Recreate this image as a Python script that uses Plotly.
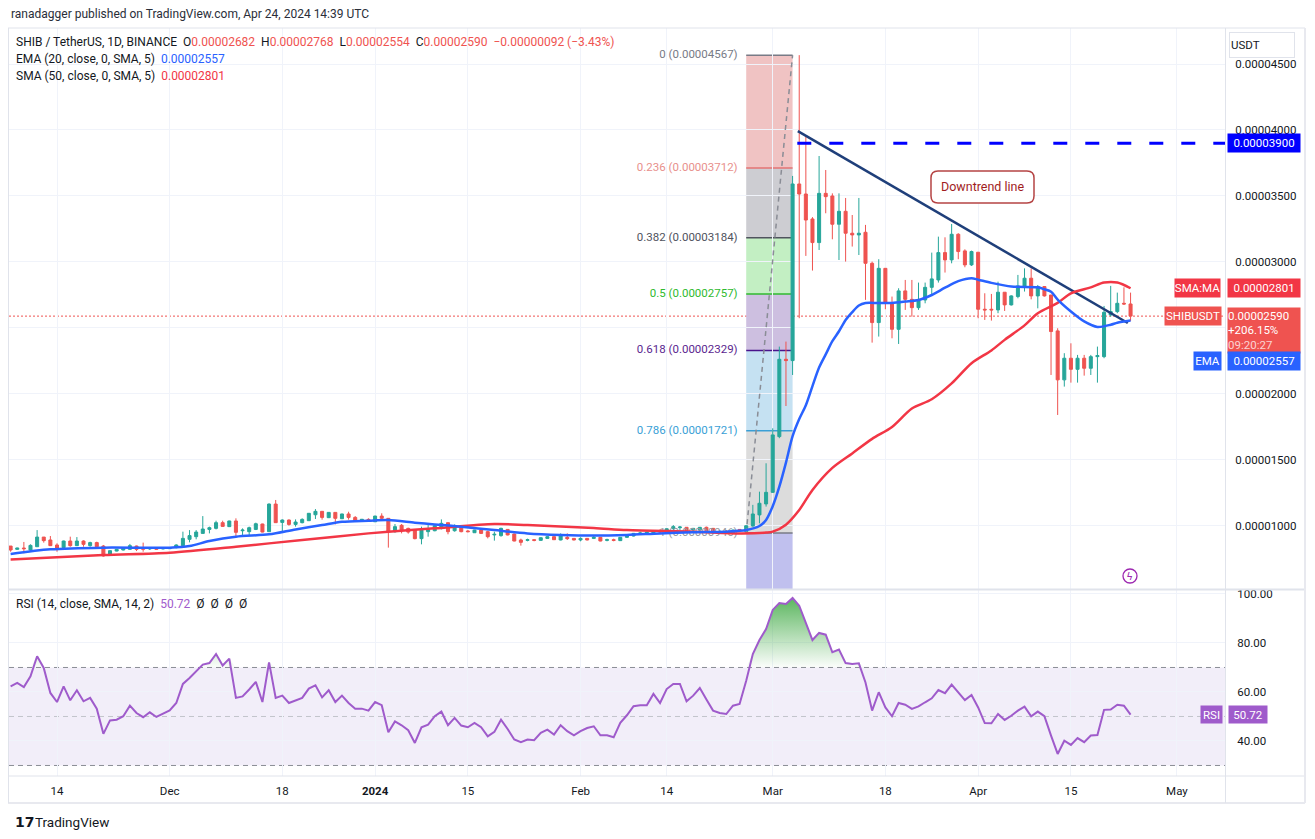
import pandas as pd
import plotly.graph_objects as go

# ---------------------------------------------------------------- data
# prices are given in units of 1e-8 USDT (0.00002590 -> 2590)
UNIT = 1e-8
START_DATE = "2023-11-07"          # first daily candle

OPEN = [848, 823, 833, 818, 843, 916, 894, 856, 836, 886,
        851, 886, 851, 874, 848, 778, 810, 818, 823, 848,
        836, 826, 836, 826, 828, 836, 851, 899, 919, 944,
        974, 982, 1025, 995, 1038, 964, 957, 974, 1015, 957,
        1166, 1027, 1045, 1012, 1025, 1040, 1085, 1111, 1063, 1103,
        1055, 1091, 1065, 1045, 1050, 1032, 1075, 1058, 957, 1005,
        982, 969, 904, 957, 964, 987, 1025, 964, 990, 962,
        949, 969, 957, 932, 927, 974, 939, 894, 891, 896,
        891, 906, 919, 894, 914, 906, 894, 906, 906, 914,
        891, 896, 889, 914, 924, 942, 947, 944, 964, 952,
        982, 987, 990, 969, 969, 990, 982, 954, 959, 949,
        974, 957, 1000, 1084, 1167, 1255, 1677, 2263, 2253, 3591,
        3515, 3326, 3147, 3520, 3500, 3286, 3384, 3218, 3205, 3225,
        2990, 2541, 2952, 2687, 2490, 2781, 2717, 2654, 2712, 2808,
        2864, 3071, 3016, 3210, 3084, 2978, 3074, 2642, 2642, 2637,
        2771, 2675, 2738, 2808, 2877, 2743, 2814, 2750, 2478, 2107,
        2271, 2187, 2271, 2195, 2283, 2283, 2599, 2624, 2687, 2682]
HIGH = [848, 835, 879, 861, 969, 916, 924, 869, 889, 919,
        916, 891, 881, 881, 856, 815, 826, 833, 864, 851,
        874, 841, 838, 836, 838, 861, 957, 969, 969, 1075,
        995, 1040, 1040, 1040, 1058, 982, 995, 1025, 1017, 1171,
        1197, 1050, 1050, 1050, 1058, 1098, 1128, 1111, 1105, 1103,
        1093, 1108, 1075, 1053, 1058, 1078, 1096, 1058, 1015, 1015,
        987, 974, 995, 1007, 1005, 1050, 1025, 1012, 995, 969,
        971, 974, 964, 957, 987, 976, 942, 904, 904, 899,
        914, 921, 921, 944, 944, 909, 914, 909, 924, 916,
        904, 904, 916, 937, 947, 957, 957, 969, 974, 982,
        1007, 1000, 992, 985, 992, 995, 985, 969, 969, 972,
        977, 1005, 1160, 1260, 1475, 1740, 2359, 2397, 3652, 4567,
        3950, 3340, 3803, 3697, 3520, 3520, 3485, 3356, 3485, 3281,
        3003, 3021, 2952, 2738, 2801, 2864, 2864, 2844, 2844, 3071,
        3192, 3187, 3288, 3218, 3096, 3086, 3074, 2763, 2758, 2851,
        2771, 2748, 2902, 2952, 2952, 2826, 2816, 2750, 2498, 2309,
        2384, 2296, 2296, 2296, 2359, 2667, 2819, 2768, 2808, 2768]
LOW = [805, 820, 793, 808, 843, 874, 848, 805, 833, 843,
       848, 843, 843, 841, 768, 775, 808, 815, 818, 810,
       805, 818, 820, 823, 826, 831, 851, 876, 899, 944,
       944, 974, 995, 992, 919, 932, 924, 969, 952, 957,
       1025, 957, 1002, 995, 1020, 1038, 1053, 1048, 1060, 1012,
       1053, 1048, 1035, 1043, 1035, 1030, 1050, 836, 949, 944,
       942, 899, 861, 919, 960, 974, 937, 957, 952, 952,
       947, 939, 906, 889, 919, 929, 884, 851, 884, 884,
       889, 904, 894, 891, 894, 891, 884, 891, 901, 884,
       884, 884, 886, 911, 921, 934, 939, 939, 944, 949,
       969, 969, 957, 962, 966, 957, 947, 944, 944, 947,
       954, 946, 995, 1020, 1147, 1250, 1665, 1909, 2144, 2574,
       3046, 2935, 3091, 3369, 3172, 3015, 3003, 3117, 3053, 2713,
       2389, 2435, 2642, 2422, 2379, 2637, 2586, 2637, 2687, 2750,
       2844, 2920, 2990, 3021, 2960, 2970, 2574, 2561, 2556, 2612,
       2629, 2670, 2725, 2776, 2717, 2649, 2738, 2144, 1841, 2056,
       2086, 2086, 2139, 2144, 2086, 2271, 2586, 2612, 2675, 2554]
CLOSE = [818, 833, 828, 853, 916, 889, 851, 833, 886, 851,
         886, 861, 874, 843, 773, 813, 823, 831, 851, 823,
         823, 836, 823, 833, 836, 856, 906, 927, 954, 977,
         987, 1025, 997, 1038, 952, 969, 987, 1017, 954, 1166,
         1025, 1045, 1012, 1030, 1050, 1096, 1111, 1065, 1103, 1058,
         1091, 1065, 1040, 1050, 1040, 1075, 1058, 957, 995, 969,
         954, 904, 969, 974, 1002, 1020, 957, 995, 957, 957,
         969, 944, 919, 937, 982, 932, 886, 876, 896, 891,
         911, 919, 896, 932, 904, 894, 906, 894, 914, 886,
         896, 891, 914, 934, 944, 947, 952, 964, 954, 979,
         995, 992, 964, 982, 990, 964, 949, 959, 954, 969,
         964, 1002, 1091, 1172, 1255, 1690, 2263, 2253, 3591, 3515,
         3318, 3147, 3520, 3495, 3286, 3384, 3218, 3205, 3218, 2990,
         2541, 2952, 2687, 2490, 2781, 2717, 2654, 2712, 2808, 2872,
         3071, 3016, 3210, 3079, 2978, 3079, 2642, 2637, 2637, 2771,
         2675, 2743, 2819, 2877, 2743, 2814, 2743, 2473, 2107, 2271,
         2187, 2271, 2195, 2283, 2291, 2619, 2624, 2687, 2682, 2590]

# EMA(20) and SMA(50) (day index from START_DATE, value)
EMA_DAY = [0, 6, 14, 24, 27, 30, 34, 39, 43, 47, 50, 54, 57, 61, 64, 68, 73, 78, 83, 88,
           93, 98, 103, 108, 111, 113, 114, 115, 116, 117, 118, 119, 120, 121, 122, 123,
           124, 125, 126, 127, 128, 129, 131, 133, 135, 137, 139, 141, 143, 145, 146, 148,
           151, 155, 156, 157, 158, 160, 162, 164, 166, 167, 169]
EMA_VAL = [788, 823, 836, 836, 848, 886, 919, 937, 974, 1007, 1032, 1040, 1045, 1025, 1012,
           995, 969, 944, 932, 927, 932, 944, 952, 957, 969, 1000, 1046, 1150, 1298, 1480,
           1680, 1810, 1915, 2060, 2200, 2300, 2400, 2475, 2560, 2620, 2670, 2689, 2689,
           2690, 2700, 2712, 2750, 2805, 2855, 2877, 2866, 2842, 2814, 2808, 2793, 2775,
           2715, 2625, 2550, 2508, 2525, 2540, 2557]
SMA_DAY = [0, 14, 24, 34, 44, 54, 57, 64, 73, 78, 88, 93, 103, 110, 114, 115, 117, 119, 121,
           124, 127, 130, 133, 136, 139, 142, 145, 148, 150, 153, 155, 158, 160, 163, 165,
           167, 169]
SMA_VAL = [747, 780, 798, 843, 894, 944, 957, 982, 1015, 1007, 985, 969, 957, 944, 950, 957,
           1010, 1121, 1273, 1440, 1550, 1660, 1750, 1890, 1960, 2080, 2233, 2330, 2410,
           2520, 2612, 2690, 2763, 2808, 2844, 2844, 2801]

RSI = [62.3, 63.7, 62.0, 66.4, 74.6, 69.8, 59.6, 55.9, 62.3, 56.6,
       60.7, 56.2, 57.6, 53.2, 42.9, 48.4, 48.7, 50.1, 54.4, 51.4,
       49.7, 51.7, 49.8, 51.2, 52.5, 55.5, 63.3, 65.7, 68.4, 71.2,
       71.8, 75.5, 70.8, 73.6, 57.6, 58.2, 61.0, 64.1, 55.9, 72.1,
       57.6, 58.5, 55.5, 56.5, 57.6, 61.4, 62.7, 57.8, 60.7, 55.9,
       58.5, 55.5, 53.2, 53.2, 52.4, 55.9, 54.6, 43.6, 48.0, 46.4,
       44.4, 39.2, 45.6, 46.7, 50.1, 52.0, 46.4, 49.4, 46.3, 45.6,
       47.4, 45.6, 41.9, 43.7, 48.7, 44.9, 40.6, 39.5, 40.6, 40.3,
       43.3, 44.6, 42.6, 46.4, 44.0, 42.3, 44.0, 45.3, 46.0, 42.3,
       42.3, 41.5, 47.4, 50.5, 54.2, 54.6, 54.6,
       59.2, 55.5, 61.2, 63.3, 63.3, 56.2, 58.5, 61.6, 56.9, 52.4,
       51.4, 51.0, 54.4, 55.1, 64.6, 75.5, 81.2, 85.7, 93.5, 96.3,
       95.9, 98.4, 95.2, 88.4, 81.2, 84.1, 83.4, 76.2, 77.3, 71.8,
       71.4, 71.7, 63.9, 52.4, 59.9, 53.7, 50.1, 55.5, 54.8, 53.1,
       54.1, 55.8, 57.4, 60.8, 59.5, 63.0, 59.9, 56.7, 58.8, 53.7,
       47.3, 47.2, 51.0, 48.6, 50.3, 52.4, 54.0, 50.1, 52.0, 50.1,
       42.2, 34.7, 40.1, 38.4, 41.2, 39.5, 42.2, 42.4, 52.7, 52.8,
       54.8, 54.4, 50.72]
RSI_LEVELS = [70, 50, 30]

# drawings
FIB_START, FIB_END = "2024-02-26", "2024-03-04"
FIB_PRICES = [4567, 3712, 3184, 2757, 2329, 1721, 946]
FIB_LABELS = ["0 (0.00004567)", "0.236 (0.00003712)", "0.382 (0.00003184)",
              "0.5 (0.00002757)", "0.618 (0.00002329)", "0.786 (0.00001721)",
              "1 (0.00000946)"]
TREND_DATES = ["2024-03-04 19:00", "2024-04-23 14:00"]
TREND_PRICES = [3992, 2538]
RESISTANCE = 3900
RESISTANCE_START = "2024-03-04 17:00"
CHANGE_PCT_TEXT = "+206.15%"
COUNTDOWN_TEXT = "09:20:27"

X_RANGE = ["2023-11-06 18:10", "2024-05-08 06:00"]
X_TICK_DATES = ["2023-11-14", "2023-12-01", "2023-12-18", "2024-01-01", "2024-01-15",
                "2024-02-01", "2024-02-14", "2024-03-01", "2024-03-18", "2024-04-01",
                "2024-04-15", "2024-05-01"]
X_TICK_TEXT = ["14", "Dec", "18", "<b>2024</b>", "15", "Feb", "14", "Mar", "18", "Apr",
               "15", "May"]
PRICE_RANGE = [522.6, 4772.7]
PRICE_TICKS = [1000, 1500, 2000, 2500, 3000, 3500, 4000, 4500]
PRICE_TICK_TEXT = ["0.00001000", "0.00001500", "0.00002000", "", "0.00003000",
                   "0.00003500", "0.00004000", "0.00004500"]
RSI_RANGE = [25.7, 101.63]
RSI_TICKS = [40, 60, 80, 100]
RSI_TICK_TEXT = ["40.00", "60.00", "80.00", "100.00"]

# ---------------------------------------------------------------- styles
FONT = "Roboto, Liberation Sans, sans-serif"
TXT = "#131722"
GRID = "#f0f3fa"
BORDER = "#e0e3eb"
UP, DOWN = "#26a69a", "#ef5350"
EMA_COLOR, SMA_COLOR = "#2962ff", "#f23645"
RSI_COLOR = "#9f5bcb"
FIB_LINE_COLORS = ["#787b86", "#e57373", "#50535e", "#2fba2f", "#4a148c", "#3a9fd6", "#787b86"]
FIB_TEXT_COLORS = ["#787b86", "#e8908c", "#50535e", "#2fba2f", "#5b1f8f", "#3a9fd6", "#9598a1"]
FIB_ZONE_COLORS = ["#f0c3c3", "#cdcdd2", "#c3efc3", "#cdbfe0", "#c5e1f2", "#dcdcdc", "#c0c0ee"]

PAGE_W, PAGE_H = 1315, 839
BODY_MARGIN = 8                          # default page margin around the figure div
W, H = PAGE_W - BODY_MARGIN, PAGE_H - BODY_MARGIN
PL, PR, PT, PB = 9, 1225, 28, 776        # plot area in page pixels
MAIN_BOTTOM, RSI_TOP = 589, 590


def px(x):
    return (x - PL) / (PR - PL)


def py(y):
    return (PB - y) / (PB - PT)


def pr(v):
    return v * UNIT


def fmt(v):
    return f"{v * UNIT:.8f}"


dates = pd.date_range(START_DATE, periods=len(CLOSE), freq="D")
t0 = pd.Timestamp(START_DATE)
ema_x = [t0 + pd.Timedelta(days=d) for d in EMA_DAY]
sma_x = [t0 + pd.Timedelta(days=d) for d in SMA_DAY]

fig = go.Figure()

# fib labels (beneath the candles)
fig.add_trace(go.Scatter(
    x=[FIB_START] * len(FIB_PRICES), y=[pr(v) for v in FIB_PRICES],
    mode="text", text=[t + "&nbsp;&nbsp;&nbsp;" for t in FIB_LABELS],
    textposition="middle left",
    textfont=dict(family=FONT, size=11.5, color=FIB_TEXT_COLORS),
    hoverinfo="skip", xaxis="x", yaxis="y"))
# fib trend (dashed diagonal)
fig.add_trace(go.Scatter(
    x=[FIB_START, FIB_END], y=[pr(FIB_PRICES[-1]), pr(FIB_PRICES[0])], mode="lines",
    line=dict(color="#8a8d96", width=1.5, dash="5px,4px"), hoverinfo="skip",
    xaxis="x", yaxis="y"))

# candles
fig.add_trace(go.Candlestick(
    x=dates, open=[pr(v) for v in OPEN], high=[pr(v) for v in HIGH],
    low=[pr(v) for v in LOW], close=[pr(v) for v in CLOSE],
    increasing=dict(line=dict(color=UP, width=1), fillcolor=UP),
    decreasing=dict(line=dict(color=DOWN, width=1), fillcolor=DOWN),
    whiskerwidth=0, hoverinfo="skip", xaxis="x", yaxis="y"))

# downtrend line and resistance
fig.add_trace(go.Scatter(
    x=TREND_DATES, y=[pr(v) for v in TREND_PRICES], mode="lines",
    line=dict(color="#1f3f7a", width=2.5), hoverinfo="skip", xaxis="x", yaxis="y"))
fig.add_trace(go.Scatter(
    x=[RESISTANCE_START, X_RANGE[1]], y=[pr(RESISTANCE)] * 2, mode="lines",
    line=dict(color="#0000ff", width=3, dash="14px,18px"), hoverinfo="skip",
    xaxis="x", yaxis="y"))

# moving averages
fig.add_trace(go.Scatter(
    x=sma_x, y=[pr(v) for v in SMA_VAL], mode="lines",
    line=dict(color=SMA_COLOR, width=2.5, shape="spline", smoothing=0.8),
    hoverinfo="skip", xaxis="x", yaxis="y"))
fig.add_trace(go.Scatter(
    x=ema_x, y=[pr(v) for v in EMA_VAL], mode="lines",
    line=dict(color=EMA_COLOR, width=2.5, shape="spline", smoothing=0.8),
    hoverinfo="skip", xaxis="x", yaxis="y"))

# RSI pane: overbought gradient fill, then the RSI line
fig.add_trace(go.Scatter(
    x=dates, y=[RSI_LEVELS[0]] * len(RSI), mode="lines", line=dict(width=0),
    hoverinfo="skip", xaxis="x2", yaxis="y2"))
fig.add_trace(go.Scatter(
    x=dates, y=[max(v, RSI_LEVELS[0]) for v in RSI], mode="lines", line=dict(width=0),
    fill="tonexty",
    fillgradient=dict(type="vertical",
                      colorscale=[[0, "rgba(76,175,80,0.02)"], [1, "rgba(76,175,80,0.9)"]],
                      start=RSI_LEVELS[0], stop=98),
    hoverinfo="skip", xaxis="x2", yaxis="y2"))
fig.add_trace(go.Scatter(
    x=dates, y=RSI, mode="lines", line=dict(color=RSI_COLOR, width=2),
    hoverinfo="skip", xaxis="x2", yaxis="y2"))

# ---------------------------------------------------------------- shapes
shapes = []
# fib zones and level lines
zone_bounds = FIB_PRICES + [0]
for i, col in enumerate(FIB_ZONE_COLORS):
    shapes.append(dict(type="rect", xref="x", yref="y", x0=FIB_START, x1=FIB_END,
                       y0=pr(zone_bounds[i]), y1=pr(zone_bounds[i + 1]),
                       fillcolor=col, line=dict(width=0), layer="below"))
for p, col in zip(FIB_PRICES, FIB_LINE_COLORS):
    shapes.append(dict(type="line", xref="x", yref="y", x0=FIB_START, x1=FIB_END,
                       y0=pr(p), y1=pr(p), line=dict(color=col, width=1.5), layer="below"))
# RSI band and levels
shapes.append(dict(type="rect", xref="paper", yref="y2", x0=0, x1=1, y0=RSI_LEVELS[2],
                   y1=RSI_LEVELS[0], fillcolor="rgba(126,87,194,0.1)",
                   line=dict(width=0), layer="below"))
for lv, col in zip(RSI_LEVELS, ["#8a8d96", "#c2c4cb", "#8a8d96"]):
    shapes.append(dict(type="line", xref="paper", yref="y2", x0=0, x1=1, y0=lv, y1=lv,
                       line=dict(color=col, width=1, dash="5px,4px"), layer="below"))
# last price dotted line
shapes.append(dict(type="line", xref="paper", yref="y", x0=0, x1=1,
                   y0=pr(CLOSE[-1]), y1=pr(CLOSE[-1]),
                   line=dict(color=DOWN, width=1, dash="2px,2px"), layer="below"))


def hline(y, x0, x1, col=BORDER, w=1):
    shapes.append(dict(type="line", xref="paper", yref="paper", x0=px(x0), x1=px(x1),
                       y0=py(y), y1=py(y), line=dict(color=col, width=w), layer="above"))


def vline(x, y0, y1, col=BORDER, w=1):
    shapes.append(dict(type="line", xref="paper", yref="paper", x0=px(x), x1=px(x),
                       y0=py(y0), y1=py(y1), line=dict(color=col, width=w), layer="above"))


hline(28, 8, 1305)
hline(MAIN_BOTTOM + 0.5, 8, 1305, w=2)
hline(776, 8, 1305)
hline(803, 8, 1305, col="#e8e9ef", w=2)
vline(8.5, 28, 803)
vline(1225.5, 28, 803)
vline(1305, 28, 803, col="#e8e9ef", w=2)

# rounded callout box for "Downtrend line"
bx0, by0, bx1, by1, r = 931, 171, 1034, 203, 7
pts = [("M", bx0 + r, by0), ("L", bx1 - r, by0), ("Q", bx1, by0, bx1, by0 + r),
       ("L", bx1, by1 - r), ("Q", bx1, by1, bx1 - r, by1), ("L", bx0 + r, by1),
       ("Q", bx0, by1, bx0, by1 - r), ("L", bx0, by0 + r), ("Q", bx0, by0, bx0 + r, by0)]
path = ""
for seg in pts:
    cmd, coords = seg[0], seg[1:]
    xy = []
    for k in range(0, len(coords), 2):
        xy.append(f"{px(coords[k]):.5f},{py(coords[k + 1]):.5f}")
    path += cmd + " " + " ".join(xy) + " "
path += "Z"
shapes.append(dict(type="path", xref="paper", yref="paper", path=path,
                   fillcolor="white", line=dict(color="#b54444", width=1.5), layer="above"))
# little alert icon
shapes.append(dict(type="circle", xref="paper", yref="paper", x0=px(1123), x1=px(1137),
                   y0=py(583), y1=py(569), line=dict(color="#9c27b0", width=1.3),
                   fillcolor="white", layer="above"))

# ---------------------------------------------------------------- annotations
ann = []


def text(t, x, y, size=12, color=TXT, xanchor="left", family=FONT):
    ann.append(dict(text=t, xref="paper", yref="paper", x=px(x), y=py(y), showarrow=False,
                    xanchor=xanchor, yanchor="middle",
                    font=dict(family=family, size=size, color=color)))


def tag(t, cx, cy, w, h, bg, align="center", yanchor="middle", yref="paper", ycoord=None,
        yshift=0):
    ann.append(dict(text=t, xref="paper", x=px(cx), xanchor="center",
                    yref=yref, y=py(cy) if ycoord is None else ycoord, yanchor=yanchor,
                    yshift=yshift, showarrow=False, bgcolor=bg, width=w, height=h,
                    borderpad=0, align=align,
                    font=dict(family=FONT, size=11.5, color="white")))


def red(s):
    return f"<span style='color:{DOWN}'>{s}</span>"


chg = CLOSE[-1] - CLOSE[-2]
chg_pct = chg / CLOSE[-2] * 100
sp = "&nbsp;&nbsp;"
text("ranadagger published on TradingView.com, Apr 24, 2024 14:39 UTC", 9, 14, size=12,
     color="#2a2e39")
text("SHIB / TetherUS, 1D, BINANCE" + sp + "O" + red(fmt(OPEN[-1])) + sp + "H"
     + red(fmt(HIGH[-1])) + sp + "L" + red(fmt(LOW[-1])) + sp + "C" + red(fmt(CLOSE[-1]))
     + sp + red(f"−{abs(chg) * UNIT:.8f} (−{abs(chg_pct):.2f}%)"), 14, 42)
text("EMA (20, close, 0, SMA, 5)" + sp
     + f"<span style='color:{EMA_COLOR}'>{fmt(EMA_VAL[-1])}</span>", 14, 59)
text("SMA (50, close, 0, SMA, 5)" + sp
     + f"<span style='color:{SMA_COLOR}'>{fmt(SMA_VAL[-1])}</span>", 14, 76)
text("RSI (14, close, SMA, 14, 2)" + sp
     + f"<span style='color:{RSI_COLOR}'>{RSI[-1]:.2f}</span>" + sp
     + "Ø&nbsp;&nbsp;Ø&nbsp;&nbsp;Ø&nbsp;&nbsp;Ø", 14, 604)

# callout text
text("Downtrend line", 982.5, 187, size=12.5, color="#a11d1d", xanchor="center")
text("ϟ", 1130, 576, size=10, color="#9c27b0", xanchor="center")

# USDT unit button
ann.append(dict(text="USDT", xref="paper", yref="paper", x=px(1229), y=py(45),
                xanchor="left", yanchor="middle", showarrow=False, width=62, height=22,
                align="left", bgcolor="white", bordercolor=BORDER, borderwidth=1,
                borderpad=1, font=dict(family=FONT, size=11.5, color=TXT)))

# price-scale labels
tag(fmt(RESISTANCE), 1264, 0, 72, 18, "#0000ff", yref="y", ycoord=pr(RESISTANCE))
tag("SMA:MA", 1197.5, 0, 45, 18, SMA_COLOR, yref="y", ycoord=pr(SMA_VAL[-1]))
tag(fmt(SMA_VAL[-1]), 1264, 0, 72, 18, SMA_COLOR, yref="y", ycoord=pr(SMA_VAL[-1]))
tag("SHIBUSDT", 1192.5, 0, 56, 18, DOWN, yref="y", ycoord=pr(CLOSE[-1]))
tag(fmt(CLOSE[-1]) + "<br>" + CHANGE_PCT_TEXT + "<br>"
    + f"<span style='color:rgba(255,255,255,0.75)'>{COUNTDOWN_TEXT}</span>",
    1264, 0, 72, 45, DOWN, align="left", yanchor="top", yref="y",
    ycoord=pr(CLOSE[-1]), yshift=9)
tag("EMA", 1207, 361, 27, 18, EMA_COLOR)
tag(fmt(EMA_VAL[-1]), 1264, 361, 72, 18, EMA_COLOR)
tag("RSI", 1211, 0, 21, 17, RSI_COLOR, yref="y2", ycoord=RSI[-1])
tag(f"{RSI[-1]:.2f}", 1247.5, 0, 38, 17, RSI_COLOR, yref="y2", ycoord=RSI[-1])

# TradingView footer
text("<b>17</b>", 13, 822, size=14, color=TXT, family="DejaVu Sans")
text("TradingView", 33, 822, size=13.5, color=TXT)

# ---------------------------------------------------------------- layout
tickfont = dict(family=FONT, size=11.5, color=TXT)
fig.update_layout(
    width=W, height=H, autosize=False,
    margin=dict(l=PL - BODY_MARGIN, r=PAGE_W - PR, t=PT - BODY_MARGIN, b=PAGE_H - PB, pad=0),
    paper_bgcolor="white", plot_bgcolor="rgba(0,0,0,0)",
    showlegend=False, hovermode=False, boxgap=0.35,
    xaxis=dict(domain=[0, 1], anchor="y", type="date", range=X_RANGE,
               tickvals=X_TICK_DATES, showticklabels=False, ticks="",
               showgrid=True, gridcolor=GRID, gridwidth=1, zeroline=False, showline=False,
               rangeslider=dict(visible=False)),
    xaxis2=dict(domain=[0, 1], anchor="y2", type="date", range=X_RANGE, matches="x",
                tickvals=X_TICK_DATES, ticktext=X_TICK_TEXT, tickfont=tickfont,
                ticks="outside", ticklen=4, tickcolor="rgba(0,0,0,0)",
                showgrid=True, gridcolor=GRID, gridwidth=1, zeroline=False, showline=False,
                rangeslider=dict(visible=False)),
    yaxis=dict(domain=[py(MAIN_BOTTOM), 1], anchor="x", side="right",
               range=[pr(PRICE_RANGE[0]), pr(PRICE_RANGE[1])],
               tickvals=[pr(v) for v in PRICE_TICKS], ticktext=PRICE_TICK_TEXT,
               tickfont=tickfont, ticks="outside", ticklen=7, tickcolor="rgba(0,0,0,0)",
               showgrid=True, gridcolor=GRID, gridwidth=1, zeroline=False, showline=False),
    yaxis2=dict(domain=[0, py(RSI_TOP)], anchor="x2", side="right", range=RSI_RANGE,
                tickvals=RSI_TICKS, ticktext=RSI_TICK_TEXT, tickfont=tickfont,
                ticks="outside", ticklen=9, tickcolor="rgba(0,0,0,0)",
                showgrid=True, gridcolor=GRID, gridwidth=1, zeroline=False, showline=False),
    shapes=shapes, annotations=ann,
)

fig.write_html("out.html")
